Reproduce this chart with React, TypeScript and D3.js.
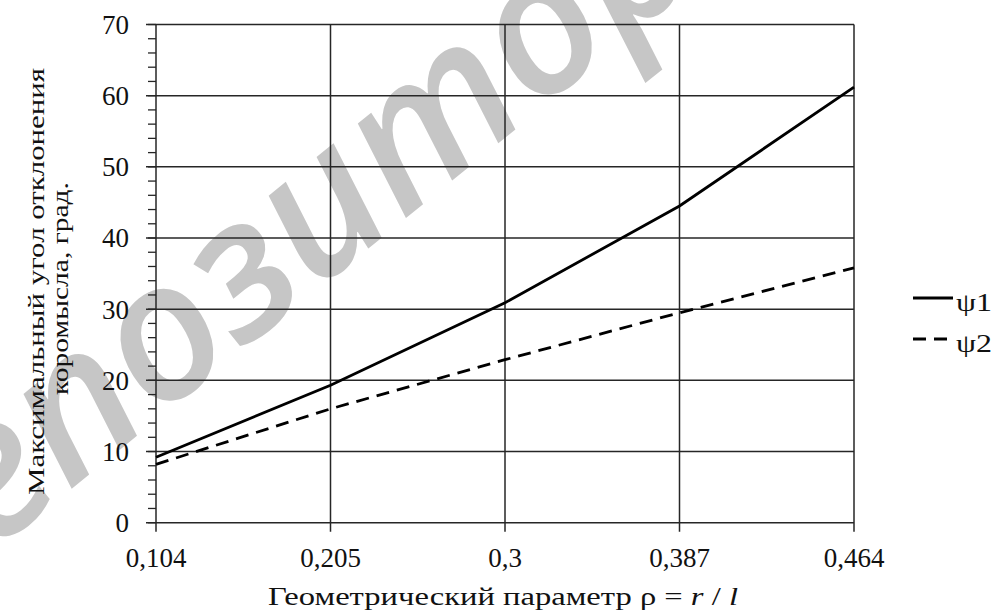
import React from "react";
import * as d3 from "d3";

const categories = ["0,104", "0,205", "0,3", "0,387", "0,464"];
const psi1 = [9.2, 19.3, 30.9, 44.5, 61.2];
const psi2 = [8.2, 16.0, 22.9, 29.5, 35.8];
const yTicks = [0, 10, 20, 30, 40, 50, 60, 70];
const yMinorTicks = d3.range(0, 70.001, 2);
const seriesNames = ["ψ1", "ψ2"];

const W = 995;
const H = 611;
const left = 156;
const right = 854;
const top = 24.5;
const bottom = 522.7;
const serif = "Liberation Serif, Times New Roman, Times, serif";

export default function App() {
  const x = d3.scalePoint<string>().domain(categories).range([left, right]);
  const y = d3.scaleLinear().domain([0, 70]).range([bottom, top]);
  const line = d3
    .line<number>()
    .x((_, i) => x(categories[i]) as number)
    .y((d) => y(d));

  return (
    <svg
      width={W}
      height={H}
      viewBox={`0 0 ${W} ${H}`}
      style={{ position: "absolute", left: 0, top: 0, background: "#fff" }}
    >
      <rect x={0} y={0} width={W} height={H} fill="#fff" />
      {/* watermark */}
      <text
        transform="translate(-98,626) rotate(-39)"
        fontFamily="Open Sans, DejaVu Sans, sans-serif"
        fontStyle="italic"
        fontWeight={600}
        fontSize={192}
        fill="#c6c6c6"
      >
        Репозиторий
      </text>
      {/* horizontal grid */}
      {yTicks.map((t) => (
        <line
          key={"h" + t}
          x1={146}
          x2={right}
          y1={y(t)}
          y2={y(t)}
          stroke="#262626"
          strokeWidth={1.5}
        />
      ))}
      {/* vertical grid */}
      {categories.map((c) => (
        <line
          key={"v" + c}
          x1={x(c)}
          x2={x(c)}
          y1={top}
          y2={bottom + 9}
          stroke="#262626"
          strokeWidth={1.5}
        />
      ))}
      {/* minor ticks */}
      {yMinorTicks.map((t) => (
        <line
          key={"m" + t}
          x1={148}
          x2={left}
          y1={y(t)}
          y2={y(t)}
          stroke="#262626"
          strokeWidth={1.3}
        />
      ))}
      {/* y tick labels */}
      {yTicks.map((t) => (
        <text
          key={"yl" + t}
          x={129}
          y={y(t)}
          dy="0.35em"
          textAnchor="end"
          fontFamily={serif}
          fontSize={27}
          fill="#111"
        >
          {t}
        </text>
      ))}
      {/* x tick labels */}
      {categories.map((c) => (
        <text
          key={"xl" + c}
          x={x(c)}
          y={567}
          textAnchor="middle"
          fontFamily={serif}
          fontSize={27}
          fill="#111"
        >
          {c}
        </text>
      ))}
      {/* series */}
      <path d={line(psi1) || ""} fill="none" stroke="#000" strokeWidth={2.8} />
      <path
        d={line(psi2) || ""}
        fill="none"
        stroke="#000"
        strokeWidth={2.8}
        strokeDasharray="13 8"
      />
      {/* x title */}
      <text
        x={268}
        y={605}
        textLength={470}
        lengthAdjust="spacingAndGlyphs"
        fontFamily={serif}
        fontSize={25}
        fill="#111"
      >
        Геометрический параметр ρ ={" "}
        <tspan fontStyle="italic">r</tspan> / <tspan fontStyle="italic">l</tspan>
      </text>
      {/* y title */}
      <text
        transform={`translate(44,495) rotate(-90)`}
        textLength={427}
        lengthAdjust="spacingAndGlyphs"
        fontFamily={serif}
        fontSize={24}
        fill="#111"
      >
        Максимальный угол отклонения
      </text>
      <text
        transform={`translate(68,395) rotate(-90)`}
        textLength={213}
        lengthAdjust="spacingAndGlyphs"
        fontFamily={serif}
        fontSize={24}
        fill="#111"
      >
        коромысла, град.
      </text>
      {/* legend */}
      <line x1={913} x2={953} y1={298} y2={298} stroke="#000" strokeWidth={2.8} />
      <text
        x={956}
        y={311}
        textLength={36}
        lengthAdjust="spacingAndGlyphs"
        fontFamily={serif}
        fontSize={25}
        fill="#111"
      >
        {seriesNames[0]}
      </text>
      <line
        x1={913}
        x2={953}
        y1={339}
        y2={339}
        stroke="#000"
        strokeWidth={2.8}
        strokeDasharray="13 8"
      />
      <text
        x={956}
        y={352}
        textLength={36}
        lengthAdjust="spacingAndGlyphs"
        fontFamily={serif}
        fontSize={25}
        fill="#111"
      >
        {seriesNames[1]}
      </text>
    </svg>
  );
}
